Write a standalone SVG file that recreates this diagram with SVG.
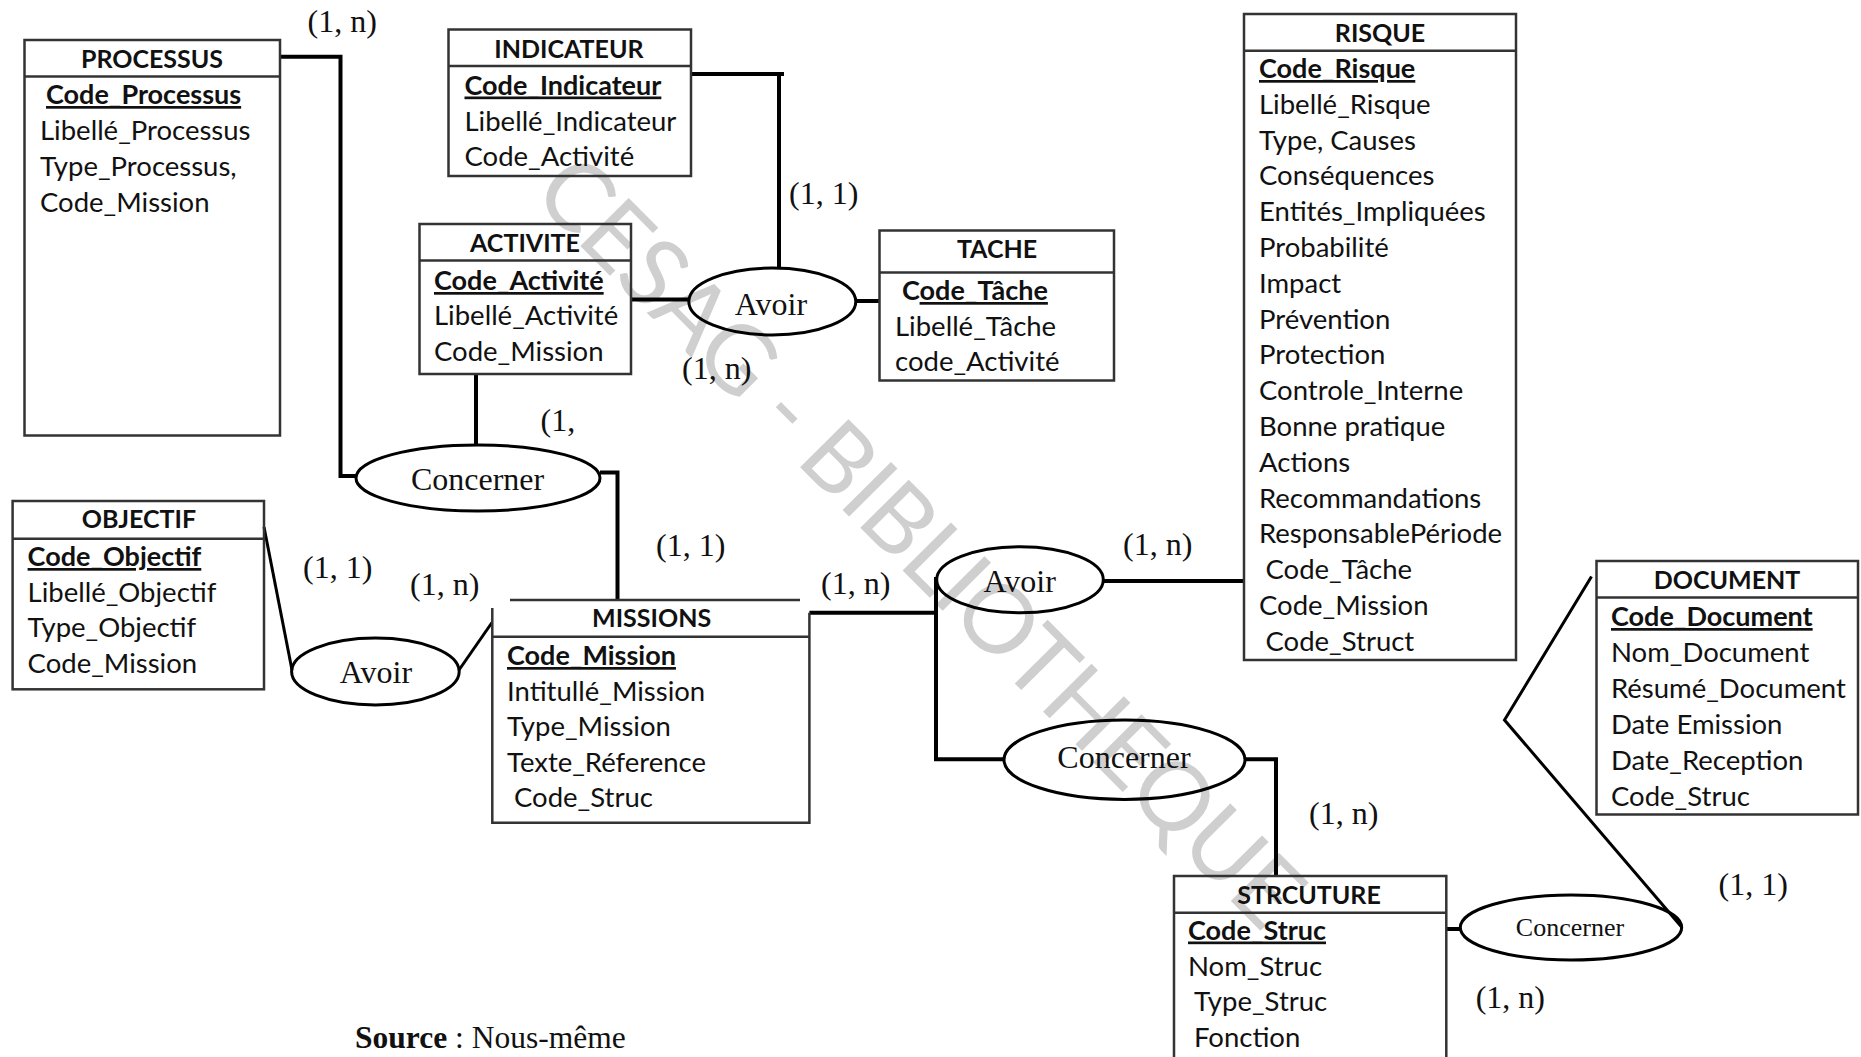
<svg xmlns="http://www.w3.org/2000/svg" width="1861" height="1057" viewBox="0 0 1861 1057">
<style>
  .box{fill:none;stroke:#333;stroke-width:2.5}
  .rel{fill:none;stroke:#000;stroke-width:3}
  .wire{fill:none;stroke:#000;stroke-width:4;stroke-linejoin:miter}
  .thin{fill:none;stroke:#000;stroke-width:3}
  .t{font-family:Lato,"Liberation Sans",sans-serif;font-size:27.5px;fill:#111}
  .h{font-family:Lato,"Liberation Sans",sans-serif;font-size:25px;font-weight:bold;fill:#111;text-anchor:middle}
  .k{font-weight:bold;text-decoration:underline;font-size:27px}
  .r{font-family:"Liberation Serif","Times New Roman",serif;font-size:32px;fill:#111;text-anchor:middle}
  .c{font-family:"Liberation Serif","Times New Roman",serif;font-size:32px;fill:#111}
  .wm{font-family:Lato,"Liberation Sans",sans-serif;font-size:95px;font-weight:normal;fill:#cfcfcf;text-anchor:middle}
</style>
<rect width="1861" height="1057" fill="#fff"/>

<!-- library watermark -->
<text class="wm" x="897" y="564.7" transform="rotate(45.2 897 564.7)" textLength="1040" lengthAdjust="spacing">CESAG - BIBLIOTHEQUE</text>

<!-- connectors -->
<g id="connectors">
  <polyline class="wire" points="280,56.7 340.5,56.7 340.5,476 357,476"/>
  <line class="wire" x1="476" y1="374" x2="476" y2="445"/>
  <polyline class="wire" points="600,472.5 617.5,472.5 617.5,600"/>
  <line class="wire" x1="691" y1="74" x2="784" y2="74"/>
  <line class="wire" x1="779" y1="74" x2="779" y2="268"/>
  <line class="wire" x1="631" y1="299.5" x2="689" y2="299.5"/>
  <line class="wire" x1="855" y1="301" x2="880" y2="301" stroke-width="5"/>
  <line class="thin" x1="264" y1="527" x2="292" y2="670"/>
  <line class="thin" x1="459" y1="670" x2="492" y2="622.5"/>
  <line class="wire" x1="809.4" y1="612.7" x2="936" y2="612.7"/>
  <polyline class="wire" points="936,577 936,759.3 1004,759.3"/>
  <line class="wire" x1="1103" y1="581" x2="1244" y2="581"/>
  <polyline class="wire" points="1245,759.3 1276,759.3 1276,876"/>
  <line class="wire" x1="1446" y1="929" x2="1461" y2="929" stroke-width="5"/>
  <polyline class="thin" points="1682,927.5 1504.5,720 1591.5,576.5"/>
</g>

<!-- entities -->
<g id="processus">
  <rect class="box" x="24.5" y="40" width="255.5" height="395.5"/>
  <line class="box" x1="24.5" y1="76.5" x2="280" y2="76.5"/>
  <text class="h" x="152" y="67.5">PROCESSUS</text>
  <text class="t k" x="46" y="104">Code_Processus</text>
  <text class="t" x="40" y="140">Libellé_Processus</text>
  <text class="t" x="40" y="176">Type_Processus,</text>
  <text class="t" x="40" y="211.5">Code_Mission</text>
</g>

<g id="indicateur">
  <rect class="box" x="448.5" y="29.5" width="242.5" height="146.5"/>
  <line class="box" x1="448.5" y1="66" x2="691" y2="66"/>
  <text class="h" x="569" y="58">INDICATEUR</text>
  <text class="t k" x="464.5" y="94.5">Code_Indicateur</text>
  <text class="t" x="464.5" y="131">Libellé_Indicateur</text>
  <text class="t" x="464.5" y="166">Code_Activité</text>
</g>

<g id="activite">
  <rect class="box" x="419.5" y="224" width="211.5" height="150"/>
  <line class="box" x1="419.5" y1="260.5" x2="631" y2="260.5"/>
  <text class="h" x="525" y="252">ACTIVITE</text>
  <text class="t k" x="434" y="290">Code_Activité</text>
  <text class="t" x="434" y="325">Libellé_Activité</text>
  <text class="t" x="434" y="360.5">Code_Mission</text>
</g>

<g id="tache">
  <rect class="box" x="879.5" y="230.5" width="234.5" height="150"/>
  <line class="box" x1="879.5" y1="272.5" x2="1114" y2="272.5"/>
  <text class="h" x="997" y="258">TACHE</text>
  <text class="t" x="902" y="300" font-weight="bold" style="font-size:27px">C<tspan text-decoration="underline">ode_Tâche</tspan></text>
  <text class="t" x="895" y="336">Libellé_Tâche</text>
  <text class="t" x="895" y="371">code_Activité</text>
</g>

<g id="risque">
  <rect class="box" x="1244" y="14" width="272" height="646"/>
  <line class="box" x1="1244" y1="50.7" x2="1516" y2="50.7"/>
  <text class="h" x="1380" y="42">RISQUE</text>
  <text class="t k" x="1259" y="78">Code_Risque</text>
  <text class="t" x="1259" y="114">Libellé_Risque</text>
  <text class="t" x="1259" y="149.6">Type, Causes</text>
  <text class="t" x="1259" y="185.4">Conséquences</text>
  <text class="t" x="1259" y="221.2">Entités_Impliquées</text>
  <text class="t" x="1259" y="257">Probabilité</text>
  <text class="t" x="1259" y="292.8">Impact</text>
  <text class="t" x="1259" y="328.6">Prévention</text>
  <text class="t" x="1259" y="364.4">Protection</text>
  <text class="t" x="1259" y="400.2">Controle_Interne</text>
  <text class="t" x="1259" y="436">Bonne pratique</text>
  <text class="t" x="1259" y="471.8">Actions</text>
  <text class="t" x="1259" y="507.6">Recommandations</text>
  <text class="t" x="1259" y="543.4">ResponsablePériode</text>
  <text class="t" x="1265.5" y="579.2">Code_Tâche</text>
  <text class="t" x="1259" y="615">Code_Mission</text>
  <text class="t" x="1265.5" y="650.8">Code_Struct</text>
</g>

<g id="objectif">
  <rect class="box" x="12.6" y="501" width="251.4" height="188.3"/>
  <line class="box" x1="12.6" y1="538.7" x2="264" y2="538.7"/>
  <text class="h" x="139" y="528">OBJECTIF</text>
  <text class="t k" x="27.6" y="566">Code_Objectif</text>
  <text class="t" x="27.6" y="601.7">Libellé_Objectif</text>
  <text class="t" x="27.6" y="637.3">Type_Objectif</text>
  <text class="t" x="27.6" y="673.3">Code_Mission</text>
</g>

<g id="missions">
  <line class="box" x1="510" y1="600" x2="800" y2="600"/>
  <polyline class="box" points="492.3,608 492.3,822.7 809.4,822.7 809.4,612.7"/>
  <line class="box" x1="492.3" y1="636.7" x2="809.4" y2="636.7"/>
  <text class="h" x="651.6" y="626.7">MISSIONS</text>
  <text class="t k" x="507" y="665">Code_Mission</text>
  <text class="t" x="507" y="701">Intitullé_Mission</text>
  <text class="t" x="507" y="736">Type_Mission</text>
  <text class="t" x="507" y="771.7">Texte_Réference</text>
  <text class="t" x="514" y="806.7">Code_Struc</text>
</g>

<g id="document">
  <rect class="box" x="1596.5" y="561" width="261.5" height="253.5"/>
  <line class="box" x1="1596.5" y1="597.4" x2="1858" y2="597.4"/>
  <text class="h" x="1727" y="588.5">DOCUMENT</text>
  <text class="t k" x="1611" y="626">Code_Document</text>
  <text class="t" x="1611" y="662">Nom_Document</text>
  <text class="t" x="1611" y="698">Résumé_Document</text>
  <text class="t" x="1611" y="734">Date Emission</text>
  <text class="t" x="1611" y="770">Date_Reception</text>
  <text class="t" x="1611" y="806">Code_Struc</text>
</g>

<g id="structure">
  <rect class="box" x="1174" y="876" width="272.3" height="200"/>
  <line class="box" x1="1174" y1="912.8" x2="1446.3" y2="912.8"/>
  <text class="h" x="1309" y="903.6">STRCUTURE</text>
  <text class="t k" x="1188" y="939.5">Code_Struc</text>
  <text class="t" x="1188" y="975.5">Nom_Struc</text>
  <text class="t" x="1194" y="1011">Type_Struc</text>
  <text class="t" x="1194" y="1047">Fonction</text>
</g>

<!-- associations -->
<g id="avoir-tache">
  <ellipse class="rel" cx="772.3" cy="301.5" rx="83.5" ry="33.5"/>
  <text class="r" x="771" y="314.5">Avoir</text>
</g>
<g id="concerner-processus">
  <ellipse class="rel" cx="478" cy="478" rx="122" ry="33"/>
  <text class="r" x="477.6" y="490">Concerner</text>
</g>
<g id="avoir-objectif">
  <ellipse class="rel" cx="375.4" cy="671.5" rx="83.8" ry="33.5"/>
  <text class="r" x="376" y="683">Avoir</text>
</g>
<g id="avoir-risque">
  <ellipse class="rel" cx="1020" cy="579.7" rx="83.3" ry="33"/>
  <text class="r" x="1019.7" y="591.7">Avoir</text>
</g>
<g id="concerner-structure">
  <ellipse class="rel" cx="1124.5" cy="759.7" rx="120.5" ry="39.7"/>
  <text class="r" x="1124" y="768.3">Concerner</text>
</g>
<g id="concerner-document">
  <ellipse class="rel" cx="1571" cy="927.5" rx="110.7" ry="32.5"/>
  <text class="r" x="1570" y="936" style="font-size:26px">Concerner</text>
</g>

<!-- cardinalities -->
<g id="cardinalities">
  <text class="c" x="307.6" y="31.5">(1, n)</text>
  <text class="c" x="789" y="204">(1, 1)</text>
  <text class="c" x="682" y="378.5">(1, n)</text>
  <text class="c" x="540.5" y="431">(1,</text>
  <text class="c" x="656" y="556">(1, 1)</text>
  <text class="c" x="303" y="578">(1, 1)</text>
  <text class="c" x="410" y="595">(1, n)</text>
  <text class="c" x="821" y="594">(1, n)</text>
  <text class="c" x="1123" y="555">(1, n)</text>
  <text class="c" x="1309" y="824">(1, n)</text>
  <text class="c" x="1718.5" y="894.5">(1, 1)</text>
  <text class="c" x="1475.7" y="1007.7">(1, n)</text>
</g>

<text class="c" x="355" y="1048" style="font-size:31.5px"><tspan font-weight="bold">Source</tspan> : Nous-même</text>
</svg>
